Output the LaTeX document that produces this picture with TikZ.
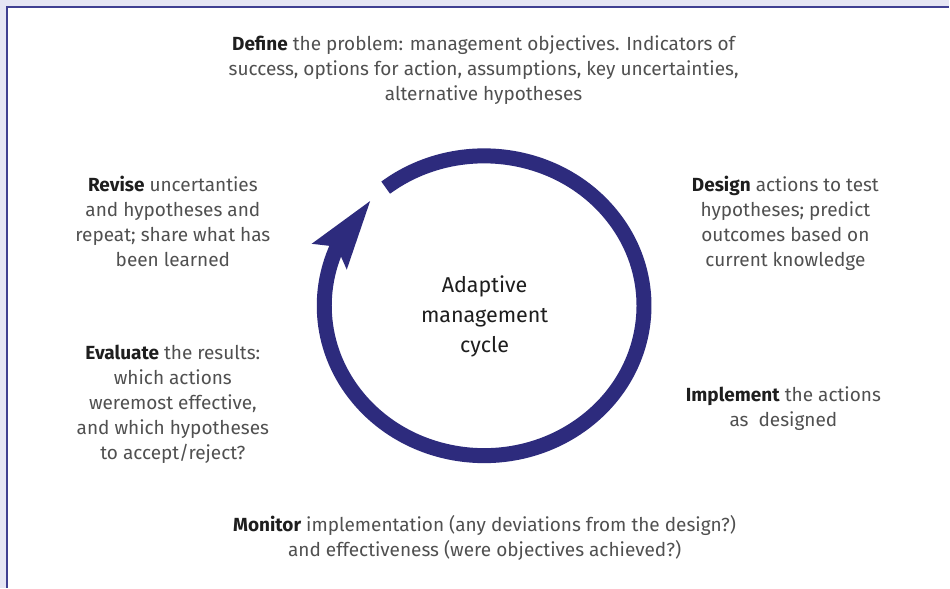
\documentclass[tikz,border=0pt]{standalone}
\usepackage{fontspec}
\setmainfont{Fira Sans}
\usetikzlibrary{arrows.meta,bending}
\definecolor{cyclenavy}{RGB}{45,43,125}
\definecolor{framelilac}{RGB}{229,229,244}
\definecolor{frameline}{RGB}{63,63,146}
\definecolor{stagegrey}{RGB}{80,80,80}
\definecolor{stagedark}{RGB}{30,30,30}
\newcommand{\stagename}[1]{{\color{stagedark}\textbf{#1}}}
\begin{document}
\begin{tikzpicture}[x=1pt,y=1pt,
    stagetext/.style={align=center,inner sep=0pt,text=stagegrey,font=\fontsize{19pt}{25pt}\selectfont},
    centretext/.style={align=center,inner sep=0pt,text=stagedark,font=\fontsize{21.5pt}{30pt}\selectfont}]
                \fill[framelilac] (0,0) rectangle (950,588);
                \fill[white] (7,0) rectangle (950,581);
                \draw[frameline,line width=1.5pt] (7,0) -- (7,581) -- (950,581);
                \draw[cyclenavy,line width=15pt,-{Stealth[length=68pt,width=40pt,inset=10pt,flex]}]
                    (484.5,282) ++(128:160 and 150) arc[start angle=128,end angle=-225,x radius=160,y radius=150];
                \node[centretext] (cycle) at (485,271) {Adaptive\\management\\cycle};
                \node[stagetext] (define) at (484,518) {\stagename{Define} the problem: management objectives. Indicators of\\success, options for action, assumptions, key uncertainties,\\alternative hypotheses};
                \node[stagetext] (design) at (786,364.5) {\stagename{Design} actions to test\\hypotheses; predict\\outcomes based on\\current knowledge};
                \node[stagetext] (implement) at (784,179.5) {\stagename{Implement} the actions\\as\ \ designed};
                \node[stagetext] (monitor) at (485,49.5) {\stagename{Monitor} implementation (any deviations from the design?)\\and effectiveness (were objectives achieved?)};
                \node[stagetext] (evaluate) at (173,183.5) {\stagename{Evaluate} the results:\\which actions\\weremost effective,\\and which hypotheses\\to accept/reject?};
                \node[stagetext] (revise) at (173,366.5) {\stagename{Revise} uncertanties\\and hypotheses and\\repeat; share what has\\been learned};
            \end{tikzpicture}
\end{document}
